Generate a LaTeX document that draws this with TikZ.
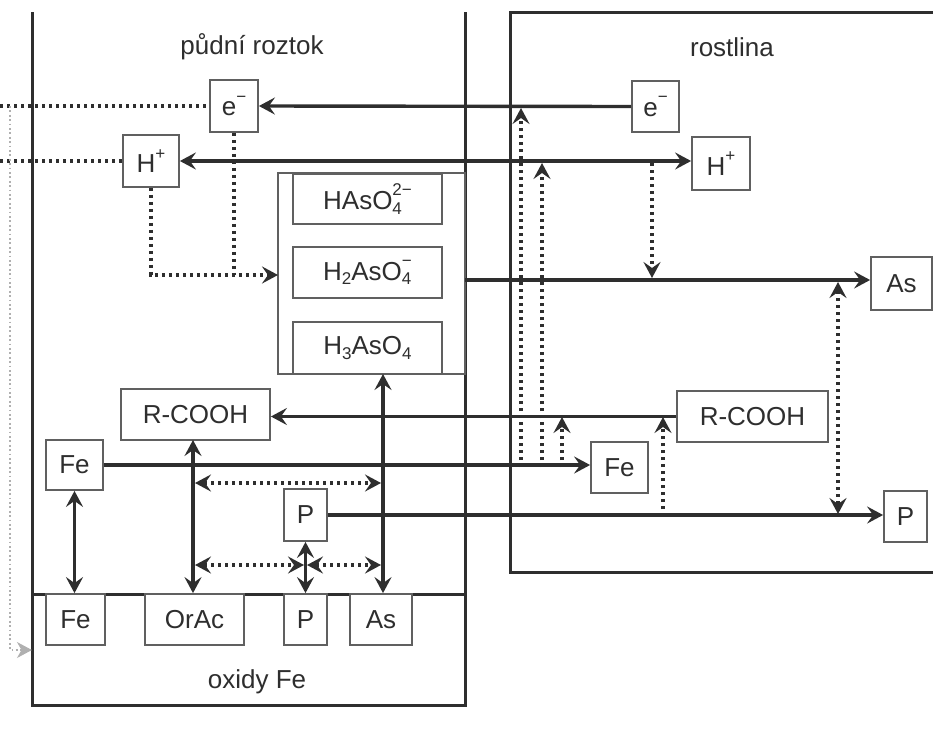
\documentclass[tikz,border=0pt]{standalone}
\usepackage{fontspec}
\setmainfont{Liberation Sans}
\usetikzlibrary{arrows.meta}
\definecolor{ink}{HTML}{2E2E2E}
\definecolor{boxc}{HTML}{606060}
\definecolor{faint}{HTML}{B0B0B0}
\newcommand\sbs[1]{\raisebox{-0.35ex}{\fontsize{17}{17}\selectfont #1}}
\newcommand\sps[1]{\raisebox{1.0ex}{\fontsize{17}{17}\selectfont #1}}
\newcommand\sbsps[2]{\rlap{\sbs{#1}}\sps{#2}}
\begin{document}
\begin{tikzpicture}[x=1pt,y=-1pt,
  tip/.tip={Stealth[length=16pt,width=17pt,inset=6pt]},
  frame/.style={draw=ink,line width=3pt},
  thinframe/.style={draw=boxc,line width=1.8pt},
  box/.style={draw=boxc,line width=1.8pt,fill=white,inner sep=0pt,text=ink,
    font=\fontsize{26}{29}\selectfont},
  label/.style={text=ink,font=\fontsize{26}{29}\selectfont},
  flow/.style={draw=ink,line width=3.4pt},
  dots/.style={draw=ink,line width=3.2pt,dash pattern=on 3.2pt off 3.8pt},
  faintdots/.style={draw=faint,line width=1.4pt,dash pattern=on 1.8pt off 2.6pt},
  >={tip}]
\useasboundingbox (0,0) rectangle (933,731);
\fill[white] (0,0) rectangle (933,731);

% frames
\draw[frame] (32,12) -- (32,705) -- (465,705) -- (465,12);
\draw[frame] (32,594) -- (465,594);
\draw[frame] (933,12) -- (510,12) -- (510,572) -- (933,572);
\draw[thinframe] (278,173) rectangle (465,374);

% titles
\node[label] (tsoil) at (252,47) {půdní roztok};
\node[label] (tplant) at (732,47) {rostlina};
\node[label] (toxid) at (257,682) {oxidy Fe};

% boxes
\node[box,minimum width=48pt,minimum height=52pt] (eL) at (234,106) {e\sps{−}};
\node[box,minimum width=56pt,minimum height=52pt] (hL) at (151,161) {H\sps{+}};
\node[box,minimum width=149pt,minimum height=50pt] (has1) at (367.5,199) {HAsO\sbsps{4}{2−}\hspace{8pt}};
\node[box,minimum width=149pt,minimum height=51pt] (has2) at (367.5,272.5) {H\sbs{2}AsO\sbsps{4}{−}\hspace{6pt}};
\node[box,minimum width=149pt,minimum height=52pt] (has3) at (367.5,348) {H\sbs{3}AsO\sbs{4}};
\node[box,minimum width=47pt,minimum height=51pt] (eR) at (655.5,106.5) {e\sps{−}};
\node[box,minimum width=58pt,minimum height=53pt] (hR) at (721,163.5) {H\sps{+}};
\node[box,minimum width=61pt,minimum height=53pt] (asR) at (901.5,283.5) {As};
\node[box,minimum width=149pt,minimum height=51pt] (rcL) at (195.5,414.5) {R-COOH};
\node[box,minimum width=151pt,minimum height=51pt] (rcR) at (752.5,416.5) {R-COOH};
\node[box,minimum width=57pt,minimum height=50pt] (feL) at (74.5,465) {Fe};
\node[box,minimum width=57pt,minimum height=51pt] (feR) at (619.5,467.5) {Fe};
\node[box,minimum width=43pt,minimum height=52pt] (pM) at (305.5,515) {P};
\node[box,minimum width=43pt,minimum height=51pt] (pR) at (905.5,516.5) {P};
\node[box,minimum width=59pt,minimum height=51pt] (feB) at (75.5,619.5) {Fe};
\node[box,minimum width=99pt,minimum height=51pt] (orac) at (194.5,619.5) {OrAc};
\node[box,minimum width=43pt,minimum height=51pt] (pB) at (305.5,619.5) {P};
\node[box,minimum width=62pt,minimum height=51pt] (asB) at (381,619.5) {As};

% helper coordinates
\coordinate (eLeft) at (0,106);
\coordinate (hLeft) at (0,161);
\coordinate (asStart) at (465,280);
\coordinate (hTurn) at (151,275);
\coordinate (eTurn) at (234,275);
\coordinate (contIn) at (278,275);
\coordinate (fdTop) at (10,106);
\coordinate (fdBot) at (10,650);
\coordinate (fdEnd) at (31,650);

% main solid flows
\draw[flow,->] (eR.west) -- (eL.east);
\draw[flow,<->] (hL.east) -- (hL.east -| hR.west);
\draw[flow,->] (asStart) -- (asStart -| asR.west);
\draw[flow,->] (rcR.west) -- (rcR.west -| rcL.east);
\draw[flow,->] (feL.east) -- (feL.east -| feR.west);
\draw[flow,->] (pM.east) -- (pM.east -| pR.west);

% vertical exchanges with oxides
\draw[flow,<->] (feL.south) -- (feL.south |- feB.north);
\draw[flow,<->] (193,440) coordinate (rcFoot) -- (rcFoot |- orac.north);
\draw[flow,<->] (383,374) coordinate (asFoot) -- (asFoot |- asB.north);
\draw[flow,<->] (pM.south) -- (pM.south |- pB.north);

% dotted in soil solution
\draw[dots] (eLeft) -- (eL.west);
\draw[dots] (hLeft) -- (hL.west);
\draw[dots,->] (hL.south) -- (hTurn) -- (contIn);
\draw[dots] (eL.south) -- (eTurn);
\draw[dots,<->] (195,483) coordinate (d1a) -- (381,483) coordinate (d1b);
\draw[dots,<->] (195,565) coordinate (d2a) -- (304,565) coordinate (d2m);
\draw[dots,<->] (307,565) coordinate (d2n) -- (381,565) coordinate (d2b);

% dotted in plant
\draw[dots,->] (521,467) coordinate (v1) -- (521,108) coordinate (v1t);
\draw[dots,->] (542,467) coordinate (v2) -- (542,163) coordinate (v2t);
\draw[dots,->] (562,467) coordinate (v3) -- (562,417) coordinate (v3t);
\draw[dots,->] (663,516) coordinate (v4) -- (663,417) coordinate (v4t);
\draw[dots,->] (652,163) coordinate (v5) -- (652,278) coordinate (v5t);
\draw[dots,<->] (838,282) coordinate (v6) -- (838,514) coordinate (v6t);

% faint dotted return path
\draw[faintdots] (fdTop) -- (fdBot) -- (fdEnd);
\draw[draw=faint,fill=faint,line width=0.8pt] (fdEnd) -- ++(-13,-7) -- ++(4,7) -- ++(-4,7) -- cycle;
\end{tikzpicture}
\end{document}
